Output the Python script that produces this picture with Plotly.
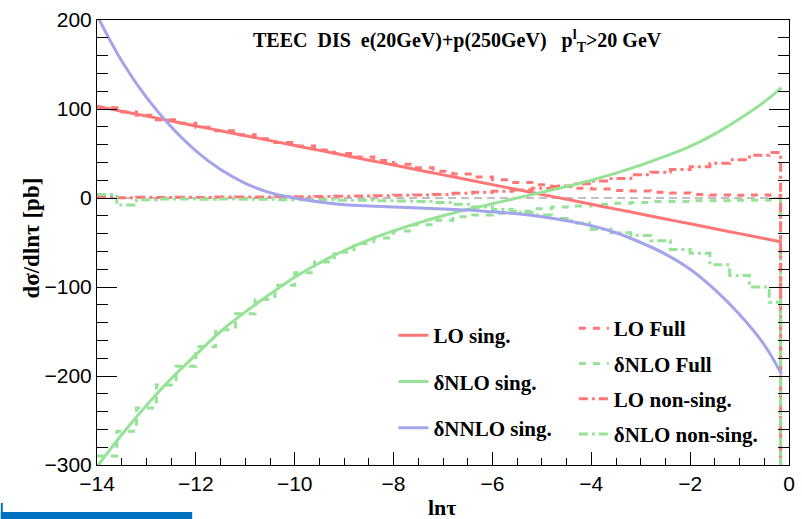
import plotly.graph_objects as go

# ---------------- data ----------------
# smooth singular curves (points along ln tau)
SING_X = [-14.0, -13.5, -13.0, -12.5, -12.0, -11.5, -11.0, -10.5, -10.0, -9.5,
          -9.0, -8.5, -8.0, -7.5, -7.0, -6.5, -6.0, -5.5, -5.0, -4.5,
          -4.0, -3.5, -3.0, -2.5, -2.0, -1.5, -1.0, -0.5, -0.15]
LO_SING = [103, 97.5, 92, 86.5, 81, 75.5, 70, 64.5, 59, 53.5,
           48, 42.5, 37, 31.5, 26, 20.5, 15, 9.5, 4, -1.5,
           -7, -12.5, -18, -23.5, -29, -34.5, -40, -45.5, -49.4]
NLO_SING = [-302, -266, -233, -203, -176, -150, -128, -108, -89, -73,
            -59, -47, -37, -28, -20, -13, -6.5, 0, 6.5, 13,
            20, 28, 37, 47, 58, 72, 89, 108, 124]
NNLO_SING = [205, 154, 113, 80, 53, 32, 16.5, 6, 0, -4.5,
             -7.5, -9, -10, -11.2, -12.3, -13.6, -15.5, -17.6, -21, -25.5,
             -31, -39, -50, -63, -80, -103, -131, -165, -198]

# histograms (bin edges and bin contents)
BIN_EDGES = [-14.0, -13.6, -13.2, -12.8, -12.4, -12.0, -11.6, -11.2, -10.8, -10.4,
             -10.0, -9.6, -9.2, -8.8, -8.4, -8.0, -7.6, -7.2, -6.8, -6.4,
             -6.0, -5.6, -5.2, -4.8, -4.4, -4.0, -3.6, -3.2, -2.8, -2.4,
             -2.0, -1.6, -1.2, -0.8, -0.4, -0.17]
LO_FULL = [101.5, 96.5, 93, 88, 84, 79.5, 75.5, 71, 66.5, 62.5,
           58.5, 54, 50, 46, 42, 38, 34, 30, 27, 23.5,
           20.5, 17.5, 15, 13, 11, 10, 8.5, 8, 6.5, 5.5,
           4, 3.5, 3, 3.5, 3]
NLO_FULL = [-290, -262, -236, -210, -189, -167, -148, -130, -114, -98,
            -84, -72, -61, -51, -45, -37, -30, -25, -21, -19,
            -17, -15, -12, -10, -9, -7, -6, -5, -4, -4,
            -3, -3, -2.5, -2.5, -2]
LO_NONSING = [0.5, 0.3, 0.8, 0.6, 0.9, 0.7, 1.0, 1.2, 1.0, 1.4,
              1.5, 1.8, 2.0, 2.2, 2.6, 3.0, 3.4, 4.0, 5.2, 6.5,
              7.5, 9, 11, 13.5, 16, 19, 22, 26, 29, 32,
              35, 39, 43, 48, 51]
NLO_NONSING = [4, -8, -2, -1, -1, -1.5, -1, -1.5, -1.5, -2,
               -2, -2, -2.5, -2.5, -3, -3.5, -4, -5, -7, -10,
               -13, -16, -19, -23, -28, -35, -39, -42, -48, -58,
               -62, -75, -87, -100, -117]
LAST_BIN_DROP = -1000  # the histograms fall far below the frame at the last edge

X_TITLE = "ln\u03c4"
Y_TITLE = "d\u03c3/dln\u03c4 [pb]"
TITLE = ("TEEC\u00a0\u00a0DIS\u00a0\u00a0e(20GeV)+p(250GeV)\u00a0\u00a0\u00a0"
         "p<sup>l</sup><sub>T</sub>>20 GeV")

# ---------------- styling ----------------
RED = "rgb(255,118,118)"
GREEN = "rgb(150,226,150)"
BLUE = "rgb(164,164,236)"
LW = 3
DASH = "7px,7px"
DASHDOT = "9px,4px,3px,4px"

fig = go.Figure()

def smooth(name, y, color, lg):
    fig.add_trace(go.Scatter(x=SING_X, y=y, mode="lines", name=name,
                             line=dict(color=color, width=LW, shape="spline"),
                             legend="legend", legendgroup=lg))

def hist(name, y, color, dash, lg):
    fig.add_trace(go.Scatter(x=BIN_EDGES, y=list(y) + [LAST_BIN_DROP], mode="lines",
                             name=name, line=dict(color=color, width=LW, dash=dash, shape="hv"),
                             legend="legend2", legendgroup=lg))

hist("LO Full", LO_FULL, RED, DASH, "a")
hist("\u03b4NLO Full", NLO_FULL, GREEN, DASH, "b")
hist("LO non-sing.", LO_NONSING, RED, DASHDOT, "c")
hist("\u03b4NLO non-sing.", NLO_NONSING, GREEN, DASHDOT, "d")
smooth("LO sing.", LO_SING, RED, "e")
smooth("\u03b4NLO sing.", NLO_SING, GREEN, "f")
smooth("\u03b4NNLO sing.", NNLO_SING, BLUE, "g")

SERIF = "Liberation Serif"
SANS = "Liberation Sans"

L, R, T, B = 97, 7, 20, 54
W, H = 802, 519
pw, ph = W - L - R, H - T - B

def px(xp):
    return (xp - L) / pw

def py(yp):
    return (H - B - yp) / ph

fig.update_layout(
    width=W, height=H,
    margin=dict(l=L, r=R, t=T, b=B),
    paper_bgcolor="white", plot_bgcolor="white",
    xaxis=dict(range=[-14, 0], tick0=0, dtick=2, ticks="inside", ticklen=13, tickwidth=1,
               tickcolor="black", showline=True, linecolor="black", linewidth=1, mirror=True,
               showgrid=False, zeroline=False,
               minor=dict(dtick=0.5, ticks="inside", ticklen=7, tickcolor="black", showgrid=False),
               tickfont=dict(family=SANS, size=21, color="black")),
    yaxis=dict(range=[-300, 200], tick0=0, dtick=100, ticks="inside", ticklen=20, tickwidth=1,
               tickcolor="black", showline=True, linecolor="black", linewidth=1, mirror="allticks",
               showgrid=False, zeroline=False,
               minor=dict(dtick=20, ticks="inside", ticklen=11, tickcolor="black", showgrid=False),
               tickfont=dict(family=SANS, size=21, color="black")),
    legend=dict(x=px(396), y=py(315), xanchor="left", yanchor="top",
                bgcolor="rgba(0,0,0,0)", traceorder="grouped", tracegroupgap=16,
                font=dict(family=SERIF, size=21, color="black", weight="bold")),
    legend2=dict(x=px(578), y=py(308), xanchor="left", yanchor="top",
                 bgcolor="rgba(0,0,0,0)", traceorder="grouped", tracegroupgap=5,
                 font=dict(family=SERIF, size=21, color="black", weight="bold")),
    showlegend=True,
    shapes=[
        dict(type="line", xref="x", yref="y", x0=-14, x1=0, y0=0, y1=0, layer="below",
             line=dict(color="gray", width=1, dash="8px,5px")),
        dict(type="rect", xref="paper", yref="paper", x0=px(0), x1=px(193), y0=py(519), y1=py(512),
             fillcolor="rgb(0,112,192)", line=dict(width=0)),
        dict(type="rect", xref="paper", yref="paper", x0=px(0), x1=px(2), y0=py(519), y1=py(503),
             fillcolor="rgb(0,112,192)", line=dict(width=0)),
    ],
    annotations=[
        dict(text=TITLE, xref="paper", yref="paper", x=px(461), y=py(41), showarrow=False,
             xanchor="center", yanchor="middle",
             font=dict(family=SERIF, size=20, color="black", weight="bold")),
        dict(text=Y_TITLE, xref="paper", yref="paper", x=px(30), y=py(238), showarrow=False,
             textangle=-90, xanchor="center", yanchor="middle",
             font=dict(family=SERIF, size=23, color="black", weight="bold")),
        dict(text=X_TITLE, xref="paper", yref="paper", x=px(445), y=py(507), showarrow=False,
             xanchor="center", yanchor="middle",
             font=dict(family=SERIF, size=22, color="black", weight="bold")),
    ],
)

fig.write_html("out.html")
